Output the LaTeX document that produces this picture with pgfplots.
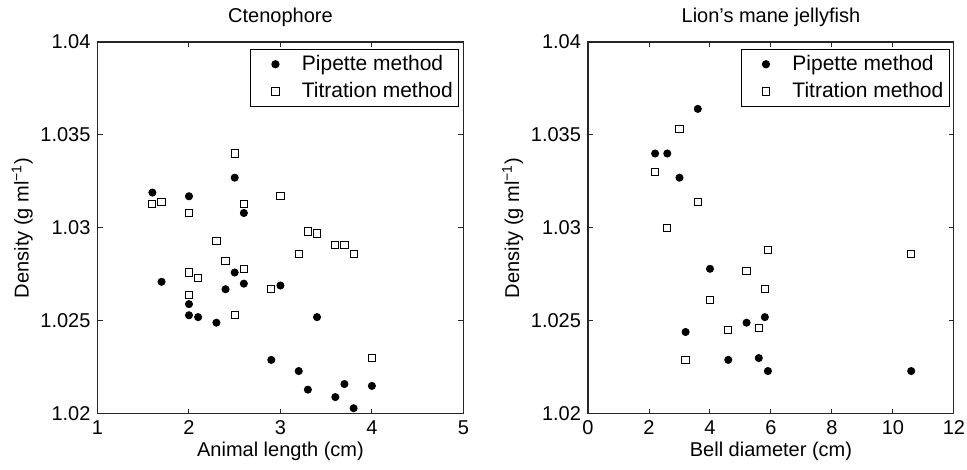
\documentclass[border=0pt]{standalone}
\usepackage{fontspec}
\setmainfont{Liberation Sans}
\usepackage{pgfplots}
\pgfplotsset{compat=1.18}

% data
\pgfplotstableread{
x y
1.6 1.0319
2.0 1.0317
2.5 1.0327
2.6 1.0308
1.7 1.0271
2.5 1.0276
2.6 1.0270
2.4 1.0267
3.0 1.0269
2.0 1.0259
2.0 1.0253
2.1 1.0252
2.3 1.0249
3.4 1.0252
2.9 1.0229
3.2 1.0223
3.3 1.0213
3.7 1.0216
4.0 1.0215
3.6 1.0209
3.8 1.0203
}\ctenoPip
\pgfplotstableread{
x y
2.5 1.0340
1.6 1.0313
1.7 1.0314
2.0 1.0308
2.6 1.0313
3.0 1.0317
3.3 1.0298
3.4 1.0297
2.3 1.0293
3.6 1.0291
3.7 1.0291
3.2 1.0286
3.8 1.0286
2.4 1.0282
2.0 1.0276
2.6 1.0278
2.1 1.0273
2.9 1.0267
2.0 1.0264
2.5 1.0253
4.0 1.0230
}\ctenoTit
\pgfplotstableread{
x y
3.6 1.0364
2.2 1.0340
2.6 1.0340
3.0 1.0327
4.0 1.0278
5.8 1.0252
5.2 1.0249
3.2 1.0244
4.6 1.0229
5.6 1.0230
5.9 1.0223
10.6 1.0223
}\lionPip
\pgfplotstableread{
x y
3.0 1.0353
2.2 1.0330
3.6 1.0314
2.6 1.0300
5.9 1.0288
10.6 1.0286
5.2 1.0277
5.8 1.0267
4.0 1.0261
4.6 1.0245
5.6 1.0246
3.2 1.0229
}\lionTit

\pgfplotsset{
  jelly/.style={
    width=183pt,height=186pt,scale only axis,
    font=\fontsize{10}{12}\selectfont,
    tick align=inside,xtick pos=both,ytick pos=both,
    major tick length=2.5pt,
    axis line style={black!85,line width=0.6pt},
    every tick/.style={black!85,line width=0.5pt},
    ymin=1.02,ymax=1.04,ytick={1.02,1.025,1.03,1.035,1.04},
    /pgf/number format/.cd,assume math mode=true,fixed,precision=3,/pgfplots/.cd,
    xticklabel style={inner xsep=0pt},
    ylabel={Density (g ml\textsuperscript{−1})},
    ylabel style={yshift=-3pt},
    xlabel style={yshift=3.5pt},
    title style={yshift=-2pt},
    legend style={at={(0.989,0.982)},anchor=north east,draw=black,
      line width=0.5pt,font=\fontsize{10.5}{12}\selectfont,
      row sep=0.5pt,inner xsep=1pt,inner ysep=1pt},
    legend image code/.code={%
      \path (0pt,0pt) (22pt,0pt);
      \draw[##1] plot coordinates {(11pt,0pt)};},
    legend cell align=left,
  },
  pip/.style={only marks,mark=*,mark size=1.8pt,mark options={fill=black,draw=black}},
  tit/.style={only marks,mark=square,mark size=1.8pt,mark options={draw=black,fill=white,line width=0.5pt}},
}

\begin{document}
\begin{tikzpicture}
\begin{axis}[jelly,
  title={Ctenophore},
  xlabel={Animal length (cm)},
  xmin=1,xmax=5,xtick={1,2,3,4,5}]
\addplot[pip] table {\ctenoPip};
\addlegendentry{Pipette method}
\addplot[tit] table {\ctenoTit};
\addlegendentry{Titration method}
\end{axis}
\begin{axis}[jelly,at={(245.35pt,0)},
  title={Lion's mane jellyfish},
  xlabel={Bell diameter (cm)},
  xmin=0,xmax=12,xtick={0,2,4,6,8,10,12}]
\addplot[pip] table {\lionPip};
\addlegendentry{Pipette method}
\addplot[tit] table {\lionTit};
\addlegendentry{Titration method}
\end{axis}
% a little white margin, as in the reference
\path ([xshift=-2.5pt,yshift=-1pt]current bounding box.south west)
      ([xshift=1pt,yshift=0.8pt]current bounding box.north east);
\end{tikzpicture}
\end{document}
